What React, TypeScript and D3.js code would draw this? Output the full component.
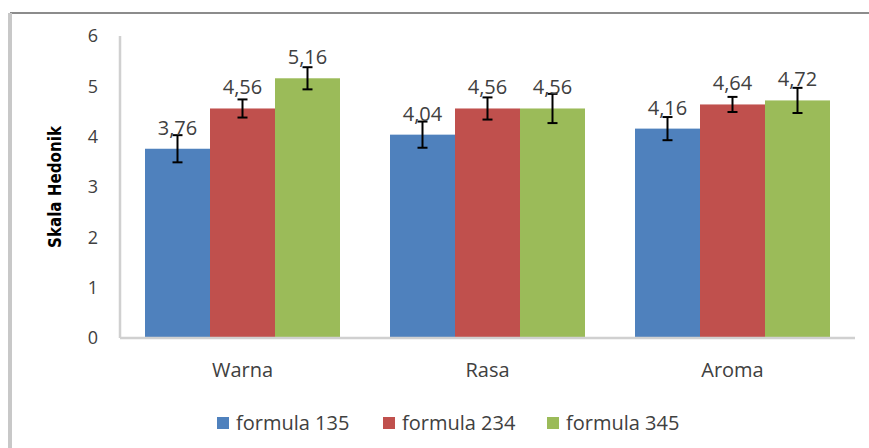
import { useEffect, useRef } from "react";
import * as d3 from "d3";

const categories = ["Warna", "Rasa", "Aroma"];
const seriesNames = ["formula 135", "formula 234", "formula 345"];
const values135 = [3.76, 4.04, 4.16];
const values234 = [4.56, 4.56, 4.64];
const values345 = [5.16, 4.56, 4.72];
const errors135 = [0.27, 0.26, 0.23];
const errors234 = [0.18, 0.22, 0.15];
const errors345 = [0.22, 0.29, 0.25];
const yTicks = [0, 1, 2, 3, 4, 5, 6];
const colors = ["#4f81bd", "#c0504d", "#9bbb59"];

const FONT = "'Open Sans', 'DejaVu Sans', sans-serif";

export default function App() {
  const svgRef = useRef<SVGSVGElement | null>(null);

  useEffect(() => {
    const width = 869;
    const height = 448;
    const svg = d3.select(svgRef.current);
    svg.selectAll("*").remove();
    svg.attr("width", width).attr("height", height);

    const values = [values135, values234, values345];
    const errors = [errors135, errors234, errors345];

    const rows = categories.flatMap((c, ci) =>
      seriesNames.map((s, si) => ({
        cat: c,
        series: s,
        si,
        value: values[si][ci],
        err: errors[si][ci],
      }))
    );

    // frame
    svg.append("rect").attr("width", width).attr("height", height).attr("fill", "#fff");
    svg.append("line")
      .attr("x1", 10).attr("x2", width).attr("y1", 13).attr("y2", 13)
      .attr("stroke", "#8c8c8c").attr("stroke-width", 2);
    svg.append("line")
      .attr("x1", 10).attr("x2", 10).attr("y1", 13).attr("y2", height)
      .attr("stroke", "#c8c8c8").attr("stroke-width", 4);

    const x0 = d3.scaleBand().domain(categories).range([120, 855]);
    const x1 = d3.scaleBand().domain(seriesNames).range([25, x0.bandwidth() - 25]);
    const y = d3.scaleLinear().domain([0, 6]).range([338, 36]);

    // y axis
    svg.append("line")
      .attr("x1", 120).attr("x2", 120).attr("y1", y(6)).attr("y2", y(0))
      .attr("stroke", "#d0d0d0").attr("stroke-width", 2.5);

    svg.append("g")
      .selectAll("text")
      .data(yTicks)
      .join("text")
      .attr("x", 98)
      .attr("y", (d) => y(d))
      .attr("dy", "0.36em")
      .attr("text-anchor", "end")
      .attr("font-family", FONT)
      .attr("font-size", 18)
      .attr("fill", "#404040")
      .text((d) => d);

    svg.append("text")
      .attr("transform", "translate(61,187) rotate(-90)")
      .attr("text-anchor", "middle")
      .attr("font-family", "'Liberation Sans Narrow', 'DejaVu Sans Condensed', 'Roboto', sans-serif")
      .attr("font-weight", "bold")
      .attr("font-size", 17)
      .attr("textLength", 122)
      .attr("lengthAdjust", "spacingAndGlyphs")
      .attr("fill", "#000")
      .text("Skala Hedonik");

    // bars
    svg.append("g")
      .selectAll("rect")
      .data(rows)
      .join("rect")
      .attr("x", (d) => x0(d.cat)! + x1(d.series)!)
      .attr("y", (d) => y(d.value))
      .attr("width", x1.bandwidth())
      .attr("height", (d) => y(0) - y(d.value))
      .attr("fill", (d) => colors[d.si]);

    // x axis
    svg.append("line")
      .attr("x1", 120).attr("x2", 855).attr("y1", y(0)).attr("y2", y(0))
      .attr("stroke", "#d0d0d0").attr("stroke-width", 2.5);

    // error bars
    const eb = svg.append("g").attr("stroke", "#000").attr("stroke-width", 2);
    rows.forEach((d) => {
      const cx = x0(d.cat)! + x1(d.series)! + x1.bandwidth() / 2;
      const top = y(d.value + d.err);
      const bot = y(d.value - d.err);
      eb.append("line").attr("x1", cx).attr("x2", cx).attr("y1", top).attr("y2", bot);
      eb.append("line").attr("x1", cx - 5).attr("x2", cx + 5).attr("y1", top).attr("y2", top);
      eb.append("line").attr("x1", cx - 5).attr("x2", cx + 5).attr("y1", bot).attr("y2", bot);
    });

    // value labels
    svg.append("g")
      .selectAll("text")
      .data(rows)
      .join("text")
      .attr("x", (d) => x0(d.cat)! + x1(d.series)! + x1.bandwidth() / 2)
      .attr("y", (d) => y(d.value) - 14)
      .attr("text-anchor", "middle")
      .attr("font-family", FONT)
      .attr("font-size", 20)
      .attr("fill", "#404040")
      .text((d) => d.value.toFixed(2).replace(".", ","));

    // category labels
    svg.append("g")
      .selectAll("text")
      .data(categories)
      .join("text")
      .attr("x", (d) => x0(d)! + x0.bandwidth() / 2)
      .attr("y", 377)
      .attr("text-anchor", "middle")
      .attr("font-family", FONT)
      .attr("font-size", 20)
      .attr("fill", "#404040")
      .text((d) => d);

    // legend
    const legendX = [217, 383, 547];
    const lg = svg.append("g")
      .selectAll("g")
      .data(seriesNames)
      .join("g")
      .attr("transform", (_, i) => `translate(${legendX[i]},423)`);
    lg.append("rect")
      .attr("x", 0).attr("y", -6).attr("width", 12).attr("height", 12)
      .attr("fill", (_, i) => colors[i]);
    lg.append("text")
      .attr("x", 19)
      .attr("y", 0)
      .attr("dy", "0.36em")
      .attr("font-family", FONT)
      .attr("font-size", 20)
      .attr("fill", "#404040")
      .text((d) => d);
  }, []);

  return (
    <div>
      <style>{`body{margin:0}`}</style>
      <svg ref={svgRef} style={{ display: "block" }} />
    </div>
  );
}
